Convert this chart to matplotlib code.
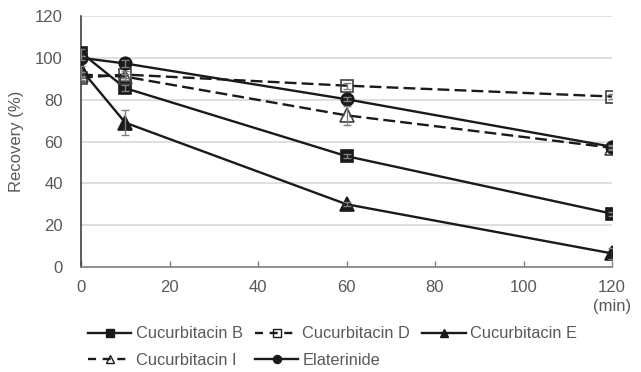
import matplotlib
matplotlib.use("Agg")
import matplotlib.pyplot as plt
from matplotlib.lines import Line2D

plt.rcParams['font.family'] = ['Liberation Sans', 'DejaVu Sans']

time = [0, 10, 60, 120]
cuc_b = [102.5, 85.5, 53, 25.5]
cuc_b_err = [1.5, 1.5, 1.0, 1.0]
cuc_d = [90.5, 92, 86.7, 81.5]
cuc_d_err = [1.0, 1.5, 1.5, 1.0]
cuc_e = [94.5, 69, 30, 6.5]
cuc_e_err = [1.5, 6.0, 1.0, 2.5]
cuc_i = [92, 91, 72.5, 57]
cuc_i_err = [1.0, 1.5, 4.5, 1.0]
elat = [100, 97.3, 80.2, 57.5]
elat_err = [1.0, 1.5, 1.0, 1.0]

labels = ['Cucurbitacin B', 'Cucurbitacin D', 'Cucurbitacin E', 'Cucurbitacin I', 'Elaterinide']
xticks = [0, 20, 40, 60, 80, 100, 120]
yticks = [0, 20, 40, 60, 80, 100, 120]

W, H = 641, 372
fig = plt.figure(figsize=(W / 100, H / 100), dpi=100)
ax = fig.add_axes([81 / W, 1 - 267 / H, (612 - 81) / W, (267 - 16) / H])

LC = '#1a1a1a'
TXT = '#595959'
EC = '#808080'
lw = 1.7
dash = (0, (5, 2.2))

series = [
    (cuc_b, cuc_b_err, '-', 's', LC, 9),
    (cuc_d, cuc_d_err, dash, 's', 'none', 9),
    (cuc_e, cuc_e_err, '-', '^', LC, 9.5),
    (cuc_i, cuc_i_err, dash, '^', 'none', 10),
    (elat, elat_err, '-', 'o', LC, 9),
]

for vals, err, ls, mk, mfc, ms in series:
    ax.plot(time, vals, linestyle=ls, color=LC, lw=lw, marker=mk, markersize=ms,
            markerfacecolor=mfc, markeredgecolor=LC if mfc != 'none' else '#404040',
            markeredgewidth=1.2, zorder=3)
    ax.errorbar(time, vals, yerr=err, fmt='none', ecolor=EC, elinewidth=1.0,
                capsize=3, capthick=1.0, zorder=4)

ax.set_xlim(0, 120)
ax.set_ylim(0, 120)
ax.set_xticks(xticks)
ax.set_yticks(yticks)
ax.yaxis.grid(True, color='#d9d9d9', lw=1.2)
ax.set_axisbelow(True)
for s in ['top', 'right']:
    ax.spines[s].set_visible(False)
ax.spines['left'].set_color('#404040')
ax.spines['left'].set_linewidth(1.2)
ax.spines['bottom'].set_color('#808080')
ax.spines['bottom'].set_linewidth(1.2)
ax.tick_params(axis='y', length=0, pad=13, labelsize=12, labelcolor=TXT)
ax.tick_params(axis='x', direction='in', length=4, width=1, color='#808080',
               pad=9, labelsize=12, labelcolor=TXT)
ax.set_ylabel('Recovery (%)', fontsize=12, color=TXT, labelpad=8)

fig.text(631 / W, 1 - 307 / H, '(min)', ha='right', va='center', fontsize=12, color=TXT)

def handle(ls, mk, mfc, ms=5.8):
    return Line2D([], [], linestyle=ls, color=LC, lw=lw, marker=mk, markersize=ms,
                  markerfacecolor=mfc, markeredgecolor=LC, markeredgewidth=1.0)

leg_dash = (0, (3.4, 2.8))
hB = handle('-', 's', LC)
hD = handle(leg_dash, 's', 'none')
hE = handle('-', '^', LC)
hI = handle(leg_dash, '^', 'none')
hL = handle('-', 'o', LC)

order_h = [hB, hI, hD, hL, hE]
order_l = [labels[0], labels[3], labels[1], labels[4], labels[2]]
leg = fig.legend(order_h, order_l, ncol=3, loc='center left',
                 bbox_to_anchor=(88 / W, 1 - 347 / H), frameon=False,
                 fontsize=11.8, handlelength=2.65, handletextpad=0.25,
                 columnspacing=0.75, labelspacing=0.7, borderpad=0, borderaxespad=0)
for t in leg.get_texts():
    t.set_color(TXT)

fig.savefig('out.png', dpi=100)
